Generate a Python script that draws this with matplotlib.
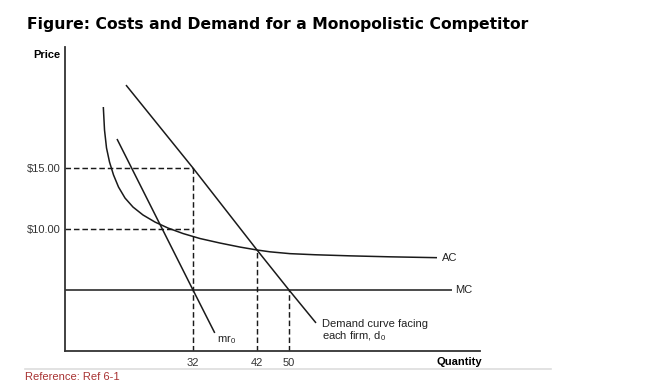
import numpy as np
import matplotlib
matplotlib.use('Agg')
import matplotlib.pyplot as plt
from matplotlib.lines import Line2D

plt.rcParams['font.family'] = ['Liberation Sans', 'DejaVu Sans']
plt.rcParams['mathtext.default'] = 'regular'

# values (price in $, quantity in units)
quantity_ticks = [32, 42, 50]
price_ticks = [10, 15]
price_labels = ['$10.00', '$15.00']

demand_q = [15.25, 32, 42, 50, 56.75]
demand_p = [21.8, 15, 8.28, 5, 2.3]

mr_q = [13, 32, 35.4]
mr_p = [17.38, 5, 1.48]

ac_q = [9.58, 9.88, 10.38, 11.13, 12.13, 13.38, 15.0, 17.0, 19.5, 22.5,
        25.75, 29.5, 33.09, 36.22, 39.34, 42, 45.25, 50.25, 56.5, 65.25, 75.25, 87]
ac_p = [20.0, 18.11, 16.64, 15.49, 14.43, 13.44, 12.54, 11.8, 11.15, 10.57,
        10.08, 9.63, 9.22, 8.85, 8.52, 8.28, 8.13, 7.98, 7.89, 7.8, 7.72, 7.65]

mc_q = [0, 90.75]
mc_p = [5, 5]

# the textbook drawing is not to scale between 32 and 42
axis_q = [-100, 0, 32, 42, 50, 1000]
axis_u = [-100, 0, 32, 48, 56, 1006]
fwd = lambda q: np.interp(q, axis_q, axis_u)
inv = lambda u: np.interp(u, axis_u, axis_q)

ink = '#1a1a1a'
fig = plt.figure(figsize=(6.5, 3.86), dpi=100)
ax = fig.add_axes([65/650, 1 - 351/386, (480-65)/650, (351-47)/386])
ax.set_xscale('function', functions=(fwd, inv))
ax.set_xlim(0, 97.75)
ax.set_ylim(0, 24.92)

ax.plot(demand_q, demand_p, color=ink, lw=1.1, solid_capstyle='butt')
ax.plot(mr_q, mr_p, color=ink, lw=1.1, solid_capstyle='butt')
ax.plot(ac_q, ac_p, color=ink, lw=1.1, solid_capstyle='butt', solid_joinstyle='round')
ax.plot(mc_q, mc_p, color=ink, lw=1.1, solid_capstyle='butt')

dash = dict(color=ink, lw=1.05, dashes=(3.8, 2))
for p in price_ticks:
    ax.plot([0, quantity_ticks[0]], [p, p], **dash)
ax.plot([quantity_ticks[0]] * 2, [0, price_ticks[1]], **dash)
ax.plot([quantity_ticks[1]] * 2, [0, ac_p[ac_q.index(42)]], **dash)
ax.plot([quantity_ticks[2]] * 2, [0, mc_p[0]], **dash)

ax.annotate('AC', (ac_q[-1], ac_p[-1]), xytext=(3.5, 0), textcoords='offset points',
            va='center', fontsize=8, color='#222222')
ax.annotate('MC', (mc_q[-1], mc_p[-1]), xytext=(2.5, 0), textcoords='offset points',
            va='center', fontsize=8, color='#222222')
ax.annotate('mr$_0$', (mr_q[-1], mr_p[-1]), xytext=(1.5, -5), textcoords='offset points',
            va='center', fontsize=8, color='#222222')
ax.annotate('Demand curve facing\neach firm, d$_0$', (demand_q[-1], demand_p[-1]),
            xytext=(4.5, 2.5), textcoords='offset points', va='top', ha='left',
            fontsize=8, color='#222222', linespacing=1.0)

ax.annotate('Price', (0, 1), xycoords='axes fraction', xytext=(-3, -6),
            textcoords='offset points', ha='right', va='center',
            fontsize=8, fontweight='bold')
ax.annotate('Quantity', (1, 0), xycoords='axes fraction', xytext=(1.5, -8),
            textcoords='offset points', ha='right', va='center',
            fontsize=8, fontweight='bold')

ax.set_xticks(quantity_ticks)
ax.set_xticklabels([str(q) for q in quantity_ticks])
ax.set_yticks(price_ticks)
ax.set_yticklabels(price_labels)
ax.tick_params(length=0, labelsize=8, labelcolor='#333333')
ax.tick_params(axis='x', pad=5)
ax.tick_params(axis='y', pad=3.5)
ax.minorticks_off()
for s in ('top', 'right'):
    ax.spines[s].set_visible(False)
for s in ('left', 'bottom'):
    ax.spines[s].set_color('#333333')
    ax.spines[s].set_linewidth(1.3)

fig.text(27/650, 1 - 25/386, 'Figure: Costs and Demand for a Monopolistic Competitor',
         family='DejaVu Sans', fontweight='bold', fontsize=11.25, va='center')
fig.add_artist(Line2D([25/650, 551/650], [1 - 369/386] * 2, color='#dddddd', lw=1.2))
fig.text(25/650, 1 - 377/386, 'Reference: Ref 6-1', color='#a83232', fontsize=8, va='center')

fig.savefig('out.png', dpi=100)
